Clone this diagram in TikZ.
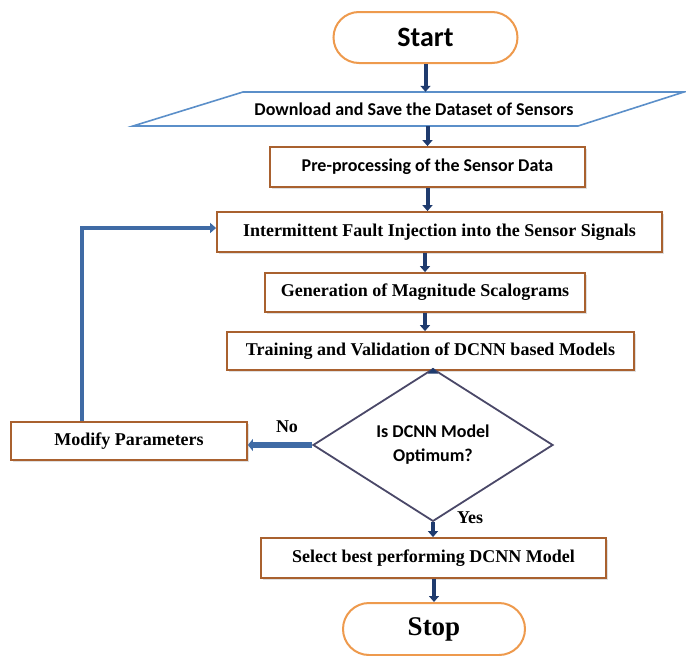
\documentclass[tikz,border=0pt]{standalone}
\usepackage{fontspec}
\setmainfont{Liberation Serif}
\newfontfamily\calfont{Carlito}
\usetikzlibrary{shapes.geometric,shapes.misc,arrows.meta,shadows}
\definecolor{boxbr}{HTML}{A9612F}
\definecolor{termor}{HTML}{EE9A4D}
\definecolor{parabl}{HTML}{5B8FC9}
\definecolor{diamc}{HTML}{4A4868}
\definecolor{navy}{HTML}{1F3B6E}
\definecolor{loopbl}{HTML}{3F6BA5}
\begin{document}
\begin{tikzpicture}[x=1pt,y=-1pt,
  proc/.style={draw=boxbr, line width=1.8pt, fill=white,
    drop shadow={shadow xshift=1.5pt, shadow yshift=-1.5pt, opacity=0.25},
    inner sep=0pt, font=\fontsize{18}{20}\selectfont\bfseries},
  calproc/.style={proc, font=\calfont\fontsize{18}{20}\selectfont\bfseries},
  term/.style={rounded rectangle, draw=termor, line width=2pt, fill=white,
    minimum width=184pt, minimum height=51pt, inner sep=0pt},
  flow/.style={draw=navy, line width=4pt, -{Triangle[width=10pt,length=6pt]}},
  nof/.style={draw=loopbl, line width=6pt, -{Triangle[width=12pt,length=5pt]}},
  loopf/.style={draw=loopbl, line width=4.5pt, -{Triangle[width=10pt,length=6pt]}},
  lbl/.style={font=\fontsize{18}{20}\selectfont\bfseries, inner sep=0pt}
]
\useasboundingbox (0,0) rectangle (686,656);

% terminals
\node[term, font=\calfont\fontsize{28}{30}\selectfont\bfseries] (start) at (425.5,37.5) {Start};
\node[term, minimum width=182pt, minimum height=52pt, font=\fontsize{27}{30}\selectfont\bfseries] (stop) at (434,629) {Stop};

% data (parallelogram)
\draw[draw=parabl, line width=1.6pt, fill=white] (133,126) -- (578,126) -- (684,92) -- (243,92) -- cycle;
\node[inner sep=0pt, minimum height=34pt, font=\calfont\fontsize{18}{20}\selectfont\bfseries] (para) at (414,109) {Download and Save the Dataset of Sensors};

% processes
\node[calproc, minimum width=315pt, minimum height=40pt] (pre) at (427.5,167) {Pre-processing of the Sensor Data};
\node[proc, minimum width=445pt, minimum height=40pt] (int) at (439.5,232) {Intermittent Fault Injection into the Sensor Signals};
\node[proc, minimum width=320pt, minimum height=39pt] (gen) at (425,292.5) {Generation of Magnitude Scalograms};
\node[proc, minimum width=407pt, minimum height=38pt] (train) at (430.5,351) {Training and Validation of DCNN based Models};
\node[diamond, draw=diamc, line width=1.8pt, fill=white, inner sep=0pt,
      minimum width=240pt, minimum height=106pt, align=center,
      font=\calfont\fontsize{18}{24}\selectfont\bfseries] (dia) at (433,445) {Is DCNN Model\\Optimum?};
\node[proc, minimum width=236pt, minimum height=38pt] (mod) at (129,441) {Modify Parameters};
\node[proc, minimum width=345pt, minimum height=40pt] (sel) at (433.5,558) {Select best performing DCNN Model};

% labels
\node[lbl] (no) at (287,427) {No};
\node[lbl] (yes) at (470,518) {Yes};

% connectors
\draw[flow] (start.south) -- (start.south |- para.north);
\draw[flow] (pre.north |- para.south) -- (pre.north);
\draw[flow] (pre.south) -- (pre.south |- int.north);
\draw[flow] (gen.north |- int.south) -- (gen.north);
\draw[flow] (gen.south) -- (gen.south |- train.north);
\draw[flow] (dia.north |- train.south) -- (dia.north);
\draw[flow] (dia.south) -- (dia.south |- sel.north);
\draw[flow] (stop.north |- sel.south) -- (stop.north);
\draw[nof] (dia.west) -- (dia.west -| mod.east);
\coordinate (lx) at (82,0);
\draw[loopf] (mod.north -| lx) |- ([yshift=4pt]int.west);
\end{tikzpicture}
\end{document}
